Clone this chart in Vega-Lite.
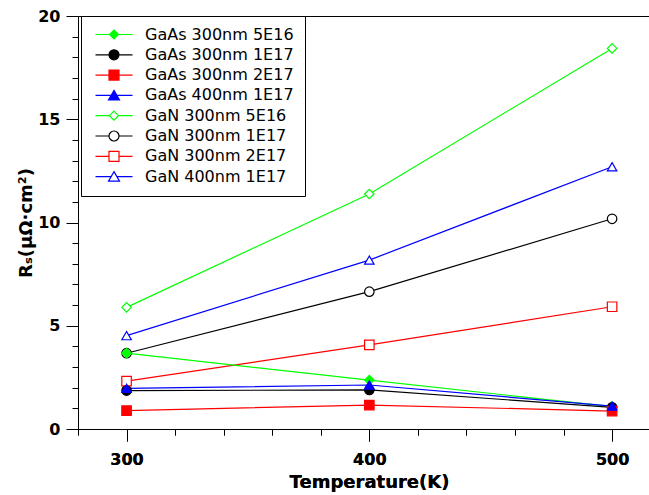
{
  "$schema": "https://vega.github.io/schema/vega-lite/v6.json",
  "width": 571,
  "height": 413,
  "autosize": {"type": "none"},
  "padding": {"left": 78, "top": 16, "right": 0, "bottom": 66},
  "background": "white",
  "config": {
    "view": {"stroke": null},
    "axis": {
      "grid": false,
      "domainColor": "black",
      "domainWidth": 1,
      "tickColor": "black",
      "tickWidth": 1,
      "labelColor": "black",
      "titleColor": "black",
      "labelFont": "DejaVu Sans",
      "labelFontWeight": "bold",
      "labelFontSize": 16,
      "titleFont": "DejaVu Sans",
      "titleFontWeight": "bold",
      "titleFontSize": 18,
      "labelFlush": false,
      "labelOverlap": false,
      "labelBound": false
    }
  },
  "data": {
    "values": [
      {"series": "GaN 300nm 5E16", "T": 300, "Rs": 5.89},
      {"series": "GaN 300nm 5E16", "T": 400, "Rs": 11.38},
      {"series": "GaN 300nm 5E16", "T": 500, "Rs": 18.43},
      {"series": "GaN 300nm 1E17", "T": 300, "Rs": 3.67},
      {"series": "GaN 300nm 1E17", "T": 400, "Rs": 6.65},
      {"series": "GaN 300nm 1E17", "T": 500, "Rs": 10.18},
      {"series": "GaN 300nm 2E17", "T": 300, "Rs": 2.32},
      {"series": "GaN 300nm 2E17", "T": 400, "Rs": 4.07},
      {"series": "GaN 300nm 2E17", "T": 500, "Rs": 5.92},
      {"series": "GaN 400nm 1E17", "T": 300, "Rs": 4.52},
      {"series": "GaN 400nm 1E17", "T": 400, "Rs": 8.18},
      {"series": "GaN 400nm 1E17", "T": 500, "Rs": 12.70},
      {"series": "GaAs 300nm 5E16", "T": 300, "Rs": 3.67},
      {"series": "GaAs 300nm 5E16", "T": 400, "Rs": 2.37},
      {"series": "GaAs 300nm 5E16", "T": 500, "Rs": 1.08},
      {"series": "GaAs 300nm 1E17", "T": 300, "Rs": 1.86},
      {"series": "GaAs 300nm 1E17", "T": 400, "Rs": 1.89},
      {"series": "GaAs 300nm 1E17", "T": 500, "Rs": 1.05},
      {"series": "GaAs 300nm 2E17", "T": 300, "Rs": 0.89},
      {"series": "GaAs 300nm 2E17", "T": 400, "Rs": 1.16},
      {"series": "GaAs 300nm 2E17", "T": 500, "Rs": 0.87},
      {"series": "GaAs 400nm 1E17", "T": 300, "Rs": 1.97},
      {"series": "GaAs 400nm 1E17", "T": 400, "Rs": 2.13},
      {"series": "GaAs 400nm 1E17", "T": 500, "Rs": 1.11}
    ]
  },
  "encoding": {
    "x": {
      "field": "T",
      "type": "quantitative",
      "scale": {"domain": [280, 515.2], "nice": false, "zero": false},
      "axis": {
        "values": [280, 300, 320, 340, 360, 380, 400, 420, 440, 460, 480, 500],
        "labelExpr": "datum.value % 100 === 0 ? datum.label : ''",
        "tickSize": {"condition": {"test": "datum.value % 100 === 0", "value": 12}, "value": 6},
        "labelPadding": 10,
        "title": "Temperature(K)",
        "titleX": 291,
        "titleY": 58,
        "titleAlign": "center",
        "titleBaseline": "alphabetic"
      }
    },
    "y": {
      "field": "Rs",
      "type": "quantitative",
      "scale": {"domain": [0, 20], "nice": false},
      "axis": {
        "values": [0, 1, 2, 3, 4, 5, 6, 7, 8, 9, 10, 11, 12, 13, 14, 15, 16, 17, 18, 19, 20],
        "labelExpr": "datum.value % 5 === 0 ? datum.label : ''",
        "tickSize": {"condition": {"test": "datum.value % 5 === 0", "value": 12}, "value": 6},
        "labelPadding": 6,
        "title": "Rₛ(μΩ·cm²)",
        "titleX": -47,
        "titleY": 206.5,
        "titleAngle": 270,
        "titleAlign": "center",
        "titleBaseline": "alphabetic"
      }
    }
  },
  "layer": [
    {
      "mark": {"type": "line", "strokeWidth": 1.2},
      "encoding": {
        "detail": {"field": "series", "type": "nominal"},
        "color": {
          "field": "series",
          "type": "nominal",
          "scale": {
            "domain": ["GaN 300nm 5E16", "GaN 300nm 1E17", "GaN 300nm 2E17", "GaN 400nm 1E17", "GaAs 300nm 5E16", "GaAs 300nm 1E17", "GaAs 300nm 2E17", "GaAs 400nm 1E17"],
            "range": ["#00ff00", "#000000", "#ff0000", "#0000ff", "#00ff00", "#000000", "#ff0000", "#0000ff"]
          },
          "legend": null
        }
      }
    },
    {
      "mark": {"type": "point", "filled": true, "size": 90, "strokeWidth": 1.2, "opacity": 1},
      "encoding": {
        "x": {
          "field": "T",
          "type": "quantitative",
          "scale": {"domain": [280, 515.2], "nice": false, "zero": false},
          "axis": {"orient": "top", "labels": false, "ticks": false, "title": null, "domain": true, "domainColor": "black"}
        },
        "shape": {
          "field": "series",
          "type": "nominal",
          "scale": {
            "domain": ["GaN 300nm 5E16", "GaN 300nm 1E17", "GaN 300nm 2E17", "GaN 400nm 1E17", "GaAs 300nm 5E16", "GaAs 300nm 1E17", "GaAs 300nm 2E17", "GaAs 400nm 1E17"],
            "range": ["diamond", "circle", "square", "triangle-up", "diamond", "circle", "square", "triangle-up"]
          },
          "legend": null
        },
        "fill": {
          "field": "series",
          "type": "nominal",
          "scale": {
            "domain": ["GaN 300nm 5E16", "GaN 300nm 1E17", "GaN 300nm 2E17", "GaN 400nm 1E17", "GaAs 300nm 5E16", "GaAs 300nm 1E17", "GaAs 300nm 2E17", "GaAs 400nm 1E17"],
            "range": ["#ffffff", "#ffffff", "#ffffff", "#ffffff", "#00ff00", "#000000", "#ff0000", "#0000ff"]
          },
          "legend": null
        },
        "stroke": {
          "field": "series",
          "type": "nominal",
          "scale": {
            "domain": ["GaN 300nm 5E16", "GaN 300nm 1E17", "GaN 300nm 2E17", "GaN 400nm 1E17", "GaAs 300nm 5E16", "GaAs 300nm 1E17", "GaAs 300nm 2E17", "GaAs 400nm 1E17"],
            "range": ["#00ff00", "#000000", "#ff0000", "#0000ff", "#00ff00", "#000000", "#ff0000", "#0000ff"]
          },
          "legend": null
        }
      }
    },
    {
      "mark": {"type": "point", "filled": true, "size": 100, "strokeWidth": 1.2, "opacity": 0},
      "encoding": {
        "shape": {
          "field": "series",
          "type": "nominal",
          "scale": {
            "domain": ["GaAs 300nm 5E16", "GaAs 300nm 1E17", "GaAs 300nm 2E17", "GaAs 400nm 1E17", "GaN 300nm 5E16", "GaN 300nm 1E17", "GaN 300nm 2E17", "GaN 400nm 1E17"],
            "range": [
              "M-3.7,0H-0.9M0.9,0H3.7M0,-0.9L0.9,0L0,0.9L-0.9,0Z",
              "M-3.7,0H-1M1,0H3.7M-1,0A1,1,0,1,1,1,0A1,1,0,1,1,-1,0Z",
              "M-3.7,0H-1M1,0H3.7M-1,-1H1V1H-1Z",
              "M-3.7,0H-0.55M0.55,0H3.7M0,-1L1.1,0.9H-1.1Z",
              "M-3.7,0H-0.9M0.9,0H3.7M0,-0.9L0.9,0L0,0.9L-0.9,0Z",
              "M-3.7,0H-1M1,0H3.7M-1,0A1,1,0,1,1,1,0A1,1,0,1,1,-1,0Z",
              "M-3.7,0H-1M1,0H3.7M-1,-1H1V1H-1Z",
              "M-3.7,0H-0.55M0.55,0H3.7M0,-1L1.1,0.9H-1.1Z"
            ]
          },
          "legend": {
            "orient": "none",
            "legendX": 3,
            "legendY": 0,
            "title": null,
            "strokeColor": "black",
            "fillColor": "white",
            "padding": 10.5,
            "symbolSize": 100,
            "symbolOpacity": 1,
            "symbolOffset": 14.5,
            "labelOffset": 23,
            "labelFont": "DejaVu Sans",
            "labelFontSize": 16,
            "labelColor": "black",
            "labelLimit": 400,
            "rowPadding": 4.3,
            "symbolStrokeWidth": 1.2
          }
        },
        "fill": {
          "field": "series",
          "type": "nominal",
          "scale": {
            "domain": ["GaAs 300nm 5E16", "GaAs 300nm 1E17", "GaAs 300nm 2E17", "GaAs 400nm 1E17", "GaN 300nm 5E16", "GaN 300nm 1E17", "GaN 300nm 2E17", "GaN 400nm 1E17"],
            "range": ["#00ff00", "#000000", "#ff0000", "#0000ff", "#ffffff", "#ffffff", "#ffffff", "#ffffff"]
          }
        },
        "stroke": {
          "field": "series",
          "type": "nominal",
          "scale": {
            "domain": ["GaAs 300nm 5E16", "GaAs 300nm 1E17", "GaAs 300nm 2E17", "GaAs 400nm 1E17", "GaN 300nm 5E16", "GaN 300nm 1E17", "GaN 300nm 2E17", "GaN 400nm 1E17"],
            "range": ["#00ff00", "#000000", "#ff0000", "#0000ff", "#00ff00", "#000000", "#ff0000", "#0000ff"]
          }
        }
      }
    }
  ],
  "resolve": {
    "axis": {"x": "independent"},
    "scale": {"shape": "independent", "fill": "independent", "stroke": "independent", "color": "independent"}
  }
}
